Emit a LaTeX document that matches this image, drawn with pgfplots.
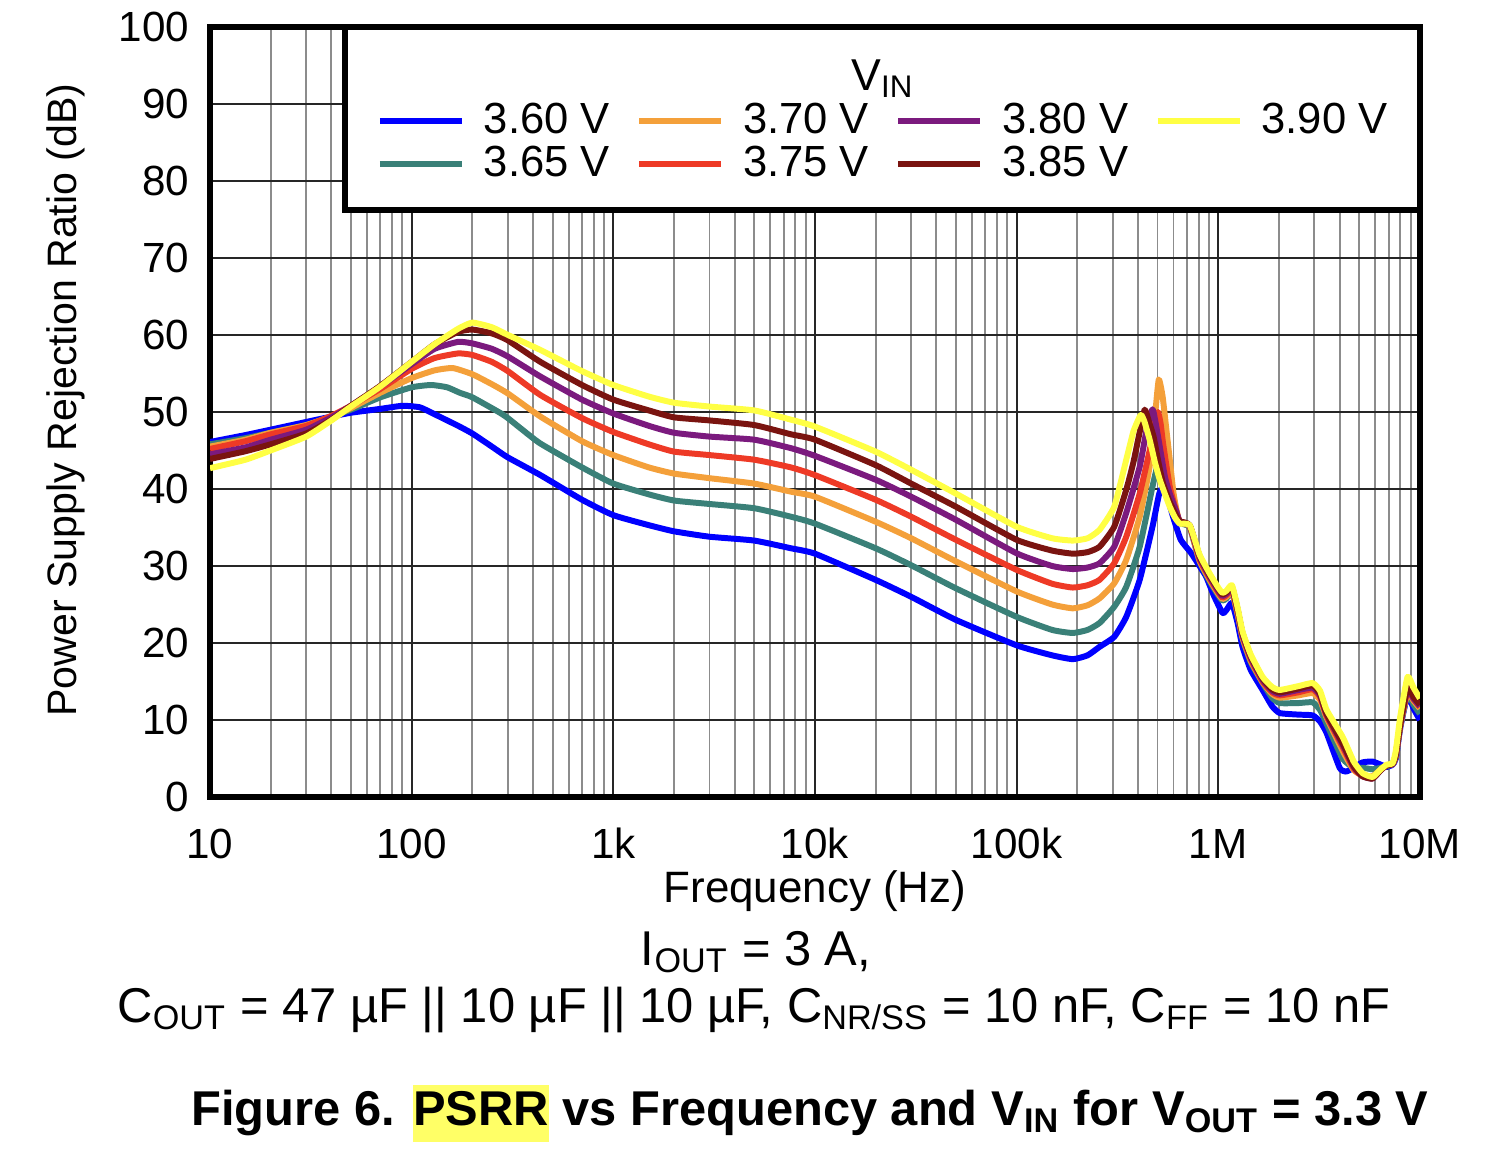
\documentclass[border=0pt]{standalone}
\usepackage{fontspec}
\setmainfont{Liberation Sans}
\usepackage{pgfplots}
\pgfplotsset{compat=1.18}
\definecolor{c360}{RGB}{0,0,255}
\definecolor{c365}{RGB}{58,128,120}
\definecolor{c370}{RGB}{244,160,58}
\definecolor{c375}{RGB}{238,58,38}
\definecolor{c380}{RGB}{123,26,126}
\definecolor{c385}{RGB}{122,20,16}
\definecolor{c390}{RGB}{255,255,68}
\definecolor{hl}{RGB}{255,255,102}
\begin{document}
\begin{tikzpicture}
\begin{axis}[
 name=ax, at={(0,0)}, anchor=south west,
 scale only axis, width=344.2pt, height=219.1pt,
 xmode=log, xmin=10, xmax=1e7, ymin=0, ymax=100,
 xtick={10,100,1000,10000,100000,1000000,10000000},
 xticklabels={10,100,1k,10k,100k,1M,10M},
 ytick={0,10,...,100},
 /pgf/number format/assume math mode=true,
 grid=both,
 major grid style={black!85, line width=0.55pt},
 minor grid style={black!45, line width=0.55pt},
 major tick length=0pt, minor tick length=0pt,
 axis line style={line width=1.7pt},
 xticklabel style={anchor=base, yshift=-17.4pt, inner sep=0pt, font=\fontsize{12}{14}\selectfont},
 yticklabel style={anchor=east, xshift=-5.7pt, inner sep=0pt, font=\fontsize{12}{14}\selectfont},
 xlabel={Frequency (Hz)}, ylabel={Power Supply Rejection Ratio (dB)},
 xlabel style={at={(axis description cs:0.5,-0.1365)}, anchor=base, inner sep=0pt, font=\fontsize{12.5}{15}\selectfont},
 ylabel style={at={(axis description cs:-0.1107,0.5156)}, anchor=base, inner sep=0pt, font=\fontsize{11.7}{14}\selectfont},
 legend columns=4, legend cell align=left,
 legend image code/.code={\draw[#1] (0pt,0pt) -- (23.3pt,0pt);},
 legend style={at={(0.138,0.901)}, anchor=north west, draw=none, fill=none,
   inner sep=0pt, outer sep=0pt, font=\fontsize{12.4}{14}\selectfont,
   nodes={inner sep=0pt, outer sep=0pt},
   /tikz/every odd column/.append style={column sep=5.4pt},
   /tikz/every even column/.append style={column sep=7.5pt},
   row sep=2.2pt},
 every axis plot/.append style={line width=1.7pt, line join=round, smooth, tension=0.3},
]
% 3.60 V
\addplot[c360, forget plot] coordinates {(10,46.1) (15,47.0) (20,47.7) (30,48.7) (40,49.4) (50,49.9) (70,50.4) (90,50.8) (110,50.6) (130,49.7) (170,48.2) (200,47.2) (250,45.5) (300,44.1) (435,41.8) (700,38.6) (1000,36.6) (1500,35.3) (2000,34.5) (3000,33.8) (5000,33.3) (7600,32.3) (10000,31.6) (20000,28.2) (30000,26.0) (50000,23.0) (100000,19.7) (150000,18.4) (190000,17.9) (225000,18.4) (258000,19.5) (305000,20.8) (350000,23.4) (408000,28.2) (472000,35.1) (510000,39.4) (540000,40.5) (560000,39.0) (597000,36.4) (652000,33.4) (733000,31.7) (808000,30.0) (872000,28.6) (950000,26.2) (1050000,23.9) (1100000,24.3) (1170000,25.2) (1250000,22.5) (1320000,19.5) (1450000,16.5) (1660000,13.9) (1850000,11.8) (2020000,10.9) (2500000,10.7) (2940000,10.6) (3200000,9.8) (3450000,8.3) (4000000,3.8) (4300000,3.3) (4700000,3.8) (5200000,4.5) (5830000,4.6) (6400000,4.2) (6840000,3.9) (7330000,4.2) (7600000,5.0) (8000000,9.0) (8690000,13.2) (9300000,11.5) (10000000,10.0)};
% 3.65 V
\addplot[c365, forget plot] coordinates {(10,45.8) (15,46.6) (20,47.3) (30,48.3) (40,49.4) (50,50.3) (70,51.9) (100,53.2) (125,53.5) (150,53.2) (173,52.5) (200,51.9) (274,49.9) (300,49.2) (350,47.8) (435,45.9) (700,42.8) (1000,40.7) (1500,39.3) (2000,38.5) (3000,38.05) (5000,37.5) (7600,36.4) (10000,35.5) (20000,32.3) (30000,30.1) (50000,27.1) (100000,23.4) (150000,21.7) (190000,21.3) (225000,21.7) (258000,22.6) (305000,24.7) (350000,27.3) (408000,32.5) (472000,40.3) (510000,44.0) (545000,45.8) (565000,44.0) (590000,40.0) (620000,37.0) (645000,35.6) (722000,35.0) (808000,30.6) (908000,28.0) (1000000,26.2) (1050000,25.5) (1100000,25.8) (1170000,26.6) (1250000,23.6) (1320000,20.6) (1450000,17.5) (1660000,14.8) (1850000,12.9) (2020000,12.2) (2500000,12.2) (2940000,12.3) (3200000,11.3) (3450000,9.5) (4140000,5.0) (4700000,3.8) (5200000,3.8) (5830000,3.6) (6400000,3.8) (6840000,4.0) (7330000,4.3) (7600000,5.2) (8000000,9.2) (8690000,13.3) (9300000,12.0) (10000000,10.8)};
% 3.70 V
\addplot[c370, forget plot] coordinates {(10,45.5) (15,46.4) (20,47.3) (30,48.3) (40,49.4) (50,50.5) (70,52.5) (100,54.4) (130,55.4) (160,55.7) (200,54.9) (250,53.6) (300,52.4) (435,49.4) (700,46.2) (1000,44.4) (1500,42.8) (2000,42.0) (3000,41.4) (5000,40.7) (7600,39.65) (10000,39.0) (20000,35.75) (30000,33.6) (50000,30.6) (100000,26.7) (150000,25.0) (190000,24.5) (225000,24.9) (258000,25.8) (305000,27.75) (350000,30.8) (408000,36.4) (457000,42.9) (484000,49.0) (507000,54.2) (530000,52.0) (555000,47.4) (575000,43.8) (600000,39.5) (621000,37.3) (645000,35.7) (722000,35.1) (808000,30.7) (908000,28.2) (1000000,26.4) (1050000,25.7) (1100000,26.0) (1170000,26.7) (1250000,23.7) (1320000,20.7) (1450000,17.7) (1660000,14.9) (1850000,13.4) (2020000,12.9) (2500000,13.2) (2940000,13.5) (3200000,12.6) (3450000,10.3) (4140000,6.0) (4700000,3.5) (5200000,2.8) (5830000,2.7) (6400000,3.6) (6840000,4.1) (7330000,4.3) (7600000,5.3) (8000000,9.3) (8690000,13.5) (9300000,12.5) (10000000,11.5)};
% 3.75 V
\addplot[c375, forget plot] coordinates {(10,45.2) (15,46.2) (20,47.1) (30,48.2) (40,49.5) (50,50.8) (70,53.0) (100,55.6) (130,57.0) (170,57.6) (200,57.4) (250,56.5) (300,55.3) (435,52.2) (700,49.2) (1000,47.4) (1500,45.8) (2000,44.85) (3000,44.4) (5000,43.8) (7600,42.8) (10000,41.8) (20000,38.6) (30000,36.4) (50000,33.4) (100000,29.5) (150000,27.7) (190000,27.2) (225000,27.5) (258000,28.2) (305000,30.35) (350000,33.8) (408000,39.4) (457000,45.0) (485000,48.5) (503000,50.0) (518000,48.5) (533000,45.9) (575000,40.3) (621000,37.0) (645000,35.8) (722000,35.2) (808000,30.9) (908000,28.4) (1000000,26.6) (1050000,25.9) (1100000,26.2) (1170000,26.9) (1250000,23.9) (1320000,20.9) (1450000,17.9) (1660000,15.0) (1850000,13.6) (2020000,13.2) (2500000,13.6) (2940000,14.0) (3200000,13.0) (3450000,10.5) (4140000,6.5) (4700000,3.7) (5200000,2.7) (5830000,2.5) (6400000,3.5) (6840000,4.1) (7330000,4.3) (7600000,5.4) (8000000,9.4) (8690000,13.8) (9300000,12.7) (10000000,11.7)};
% 3.80 V
\addplot[c380, forget plot] coordinates {(10,44.5) (15,45.4) (20,46.4) (30,47.7) (40,49.3) (50,50.8) (70,53.3) (100,56.2) (130,58.2) (170,59.1) (200,58.9) (250,58.2) (300,57.2) (435,54.6) (700,51.6) (1000,49.8) (1500,48.2) (2000,47.3) (3000,46.8) (5000,46.4) (7600,45.3) (10000,44.3) (20000,41.2) (30000,39.0) (50000,36.0) (100000,31.65) (150000,30.0) (190000,29.6) (225000,29.8) (258000,30.35) (305000,32.5) (350000,36.9) (408000,42.9) (440000,47.5) (472000,50.35) (490000,48.5) (513000,45.5) (545000,41.5) (575000,39.4) (621000,37.0) (645000,35.8) (722000,35.2) (808000,31.1) (908000,28.6) (1000000,26.8) (1050000,26.1) (1100000,26.4) (1170000,27.1) (1250000,24.1) (1320000,21.1) (1450000,18.1) (1660000,15.2) (1850000,13.8) (2020000,13.4) (2500000,13.9) (2940000,14.2) (3200000,13.2) (3450000,10.7) (4140000,6.8) (4700000,3.9) (5200000,2.7) (5830000,2.4) (6400000,3.5) (6840000,4.1) (7330000,4.3) (7600000,5.5) (8000000,9.5) (8690000,14.0) (9300000,12.8) (10000000,11.8)};
% 3.85 V
\addplot[c385, forget plot] coordinates {(10,43.9) (15,44.9) (20,45.8) (30,47.2) (40,49.0) (50,50.8) (70,53.4) (100,56.5) (130,58.8) (170,60.4) (200,60.7) (250,60.2) (300,59.3) (435,56.5) (700,53.5) (1000,51.6) (1500,50.2) (2000,49.3) (3000,48.9) (5000,48.3) (7600,47.1) (10000,46.4) (20000,43.1) (30000,40.7) (50000,37.7) (100000,33.4) (150000,32.0) (190000,31.6) (225000,31.8) (258000,32.5) (305000,35.1) (350000,39.9) (380000,43.5) (408000,47.4) (432000,50.3) (455000,48.6) (478000,46.8) (505000,43.5) (533000,40.7) (575000,38.3) (621000,36.5) (645000,35.8) (722000,35.3) (808000,31.3) (908000,28.8) (1000000,27.0) (1050000,26.3) (1100000,26.6) (1170000,27.3) (1250000,24.3) (1320000,21.3) (1450000,18.3) (1660000,15.4) (1850000,14.0) (2020000,13.6) (2500000,14.1) (2940000,14.5) (3200000,13.4) (3450000,10.8) (4140000,7.0) (4700000,4.0) (5200000,2.7) (5830000,2.4) (6400000,3.5) (6840000,4.1) (7330000,4.3) (7600000,5.5) (8000000,9.5) (8690000,14.3) (9300000,13.0) (10000000,12.0)};
% 3.90 V
\addplot[c390, forget plot] coordinates {(10,42.7) (15,43.8) (20,45.0) (30,46.8) (40,48.9) (50,50.7) (70,53.3) (100,56.5) (130,58.8) (170,60.8) (200,61.6) (250,61.0) (300,60.0) (435,58.05) (700,55.3) (1000,53.5) (1500,52.0) (2000,51.2) (3000,50.7) (5000,50.2) (7600,49.0) (10000,48.1) (20000,44.85) (30000,42.5) (50000,39.4) (100000,35.1) (150000,33.6) (190000,33.3) (225000,33.6) (258000,34.7) (305000,37.7) (350000,43.8) (380000,47.5) (408000,49.4) (416000,49.6) (430000,48.8) (457000,46.4) (485000,43.5) (513000,41.2) (545000,39.3) (575000,37.7) (610000,36.3) (645000,35.5) (722000,35.3) (808000,31.5) (908000,29.0) (1000000,27.2) (1050000,26.5) (1100000,26.8) (1170000,27.5) (1250000,24.5) (1320000,21.5) (1450000,18.5) (1660000,15.6) (1850000,14.3) (2020000,13.9) (2500000,14.4) (2940000,14.8) (3200000,13.8) (3450000,11.3) (4140000,7.8) (4700000,4.6) (5200000,3.1) (5830000,2.6) (6400000,3.6) (6840000,4.2) (7330000,4.4) (7600000,6.0) (8000000,10.5) (8690000,15.6) (9300000,14.2) (10000000,12.8)};
% legend frame and title
\draw[line width=1.6pt, fill=white] (rel axis cs:0.1116,0.762) rectangle (rel axis cs:1,1);
\node[anchor=base, inner sep=0pt, font=\fontsize{12.7}{15}\selectfont] at (rel axis cs:0.556,0.918) {V\textsubscript{IN}};
\addlegendimage{c360, line width=1.7pt}\addlegendentry{3.60 V}
\addlegendimage{c370, line width=1.7pt}\addlegendentry{3.70 V}
\addlegendimage{c380, line width=1.7pt}\addlegendentry{3.80 V}
\addlegendimage{c390, line width=1.7pt}\addlegendentry{3.90 V}
\addlegendimage{c365, line width=1.7pt}\addlegendentry{3.65 V}
\addlegendimage{c375, line width=1.7pt}\addlegendentry{3.75 V}
\addlegendimage{c385, line width=1.7pt}\addlegendentry{3.85 V}
\end{axis}
\pgfresetboundingbox
\begin{scope}[x=0.2845pt, y=-0.2845pt, shift={(-210,-797)}]
\path[use as bounding box] (0,0) rectangle (1490,1148);
\node[anchor=base, inner sep=0pt, font=\fontsize{13.9}{16}\selectfont] at (756,965) {I\textsubscript{OUT} = 3 A,};
\node[anchor=base, inner sep=0pt, font=\fontsize{13.9}{16}\selectfont] at (754,1022) {C\textsubscript{OUT} = 47 µF || 10 µF || 10 µF, C\textsubscript{NR/SS} = 10 nF, C\textsubscript{FF} = 10 nF};
\node[anchor=base, inner sep=0pt, font=\fontsize{13.9}{16}\selectfont\bfseries] at (810,1125) {Figure 6. {\setlength\fboxsep{0pt}\colorbox{hl}{\rule[-4.8pt]{0pt}{16.2pt}PSRR}} vs Frequency and V\textsubscript{IN} for V\textsubscript{OUT} = 3.3 V};
\end{scope}
\end{tikzpicture}
\end{document}
